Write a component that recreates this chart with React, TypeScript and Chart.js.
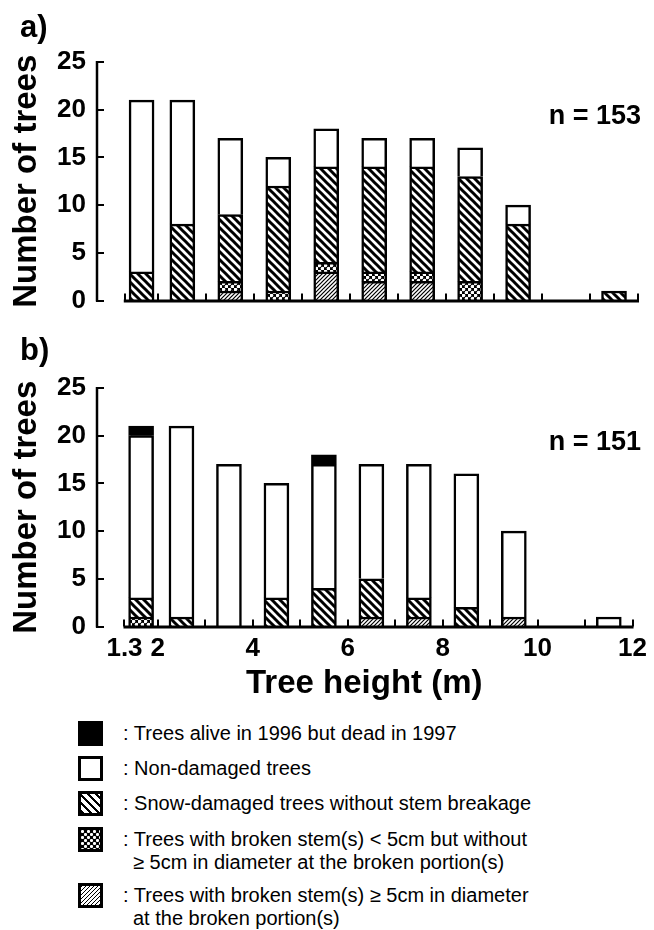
import React, { useEffect, useRef } from 'react';
import { Chart, registerables } from 'chart.js';

Chart.register(...registerables);

const FONT = '"Liberation Sans", Arial, Helvetica, sans-serif';

// Height classes (bar centres, m): 1.3-2, 2-3, ..., 9-10, 11-12
const classCenters = [1.65, 2.5, 3.5, 4.5, 5.5, 6.5, 7.5, 8.5, 9.5, 11.5];
const xTickValues = [1.3, 2, 3, 4, 5, 6, 7, 8, 9, 10, 11, 12];
const xLabelValues = [1.3, 2, 4, 6, 8, 10, 12];
const xLabelTexts = ['1.3', '2', '4', '6', '8', '10', '12'];
const yTickValues = [0, 5, 10, 15, 20, 25];

// Panel a)
const aBroken5 = [0, 0, 1, 0, 3, 2, 2, 0, 0, 0];
const aBrokenSmall = [0, 0, 1, 1, 1, 1, 1, 2, 0, 0];
const aSnow = [3, 8, 7, 11, 10, 11, 11, 11, 8, 1];
const aNonDamaged = [18, 13, 8, 3, 4, 3, 3, 3, 2, 0];
const aDead = [0, 0, 0, 0, 0, 0, 0, 0, 0, 0];

// Panel b)
const bBroken5 = [0, 0, 0, 0, 0, 1, 1, 0, 1, 0];
const bBrokenSmall = [1, 0, 0, 0, 0, 0, 0, 0, 0, 0];
const bSnow = [2, 1, 0, 3, 4, 4, 2, 2, 0, 0];
const bNonDamaged = [17, 20, 17, 12, 13, 12, 14, 14, 9, 1];
const bDead = [1, 0, 0, 0, 1, 0, 0, 0, 0, 0];

const legendItems = [
  { kind: 'dead', lines: [': Trees alive in 1996 but dead in 1997'] },
  { kind: 'non', lines: [': Non-damaged trees'] },
  { kind: 'snow', lines: [': Snow-damaged trees without stem breakage'] },
  { kind: 'small', lines: [': Trees with broken stem(s) < 5cm but without', '\u2265 5cm in diameter at the broken portion(s)'] },
  { kind: 'broken5', lines: [': Trees with broken stem(s) \u2265 5cm in diameter', 'at the broken portion(s)'] },
];
const legendCenters = [733, 768, 803, 839, 895];

function makePattern(kind: string): CanvasPattern | string {
  const c = document.createElement('canvas');
  if (kind === 'snow') {
    c.width = 8; c.height = 8;
    const ctx = c.getContext('2d')!;
    ctx.fillStyle = '#fff'; ctx.fillRect(0, 0, 8, 8);
    ctx.strokeStyle = '#000'; ctx.lineWidth = 3;
    for (const k of [-8, 0, 8]) {
      ctx.beginPath(); ctx.moveTo(k - 2, -2); ctx.lineTo(k + 10, 10); ctx.stroke();
    }
    return ctx.createPattern(c, 'repeat')!;
  }
  if (kind === 'broken5') {
    c.width = 4; c.height = 4;
    const ctx = c.getContext('2d')!;
    ctx.fillStyle = '#fff'; ctx.fillRect(0, 0, 4, 4);
    ctx.strokeStyle = '#000'; ctx.lineWidth = 1.2;
    for (const k of [0, 4, 8]) {
      ctx.beginPath(); ctx.moveTo(k + 1, -1); ctx.lineTo(k - 5, 5); ctx.stroke();
    }
    return ctx.createPattern(c, 'repeat')!;
  }
  if (kind === 'small') {
    c.width = 6; c.height = 6;
    const ctx = c.getContext('2d')!;
    ctx.fillStyle = '#000'; ctx.fillRect(0, 0, 6, 6);
    ctx.fillStyle = '#fff';
    ctx.beginPath(); ctx.arc(1.5, 1.5, 1.8, 0, Math.PI * 2); ctx.fill();
    ctx.beginPath(); ctx.arc(4.5, 4.5, 1.8, 0, Math.PI * 2); ctx.fill();
    return ctx.createPattern(c, 'repeat')!;
  }
  if (kind === 'dead') return '#000';
  return '#fff';
}

const axisPlugin = {
  id: 'panelMarks',
  afterDatasetsDraw(chart: any) {
    const { ctx, chartArea, scales } = chart;
    const x = scales.x, y = scales.y;
    const y0 = y.getPixelForValue(0);
    ctx.save();
    ctx.strokeStyle = '#000';
    // y axis line
    ctx.lineWidth = 2.5;
    ctx.beginPath();
    ctx.moveTo(chartArea.left + 1, y.getPixelForValue(25) - 1);
    ctx.lineTo(chartArea.left + 1, y0 + 1);
    ctx.stroke();
    // y ticks (inward)
    ctx.lineWidth = 2;
    for (const v of yTickValues) {
      const py = Math.round(y.getPixelForValue(v));
      ctx.beginPath(); ctx.moveTo(chartArea.left, py); ctx.lineTo(chartArea.left + 8, py); ctx.stroke();
    }
    // x axis line
    ctx.lineWidth = 3;
    ctx.beginPath();
    ctx.moveTo(x.getPixelForValue(1.3) - 1, y0 + 0.5);
    ctx.lineTo(x.getPixelForValue(12) + 1, y0 + 0.5);
    ctx.stroke();
    // x ticks (inward)
    ctx.lineWidth = 2;
    for (const v of xTickValues) {
      const px = Math.round(x.getPixelForValue(v));
      ctx.beginPath(); ctx.moveTo(px, y0); ctx.lineTo(px, y0 - 7); ctx.stroke();
    }
    ctx.restore();
  },
  afterDraw(chart: any, _args: any, opts: any) {
    const { ctx, chartArea } = chart;
    ctx.save();
    ctx.fillStyle = '#000';
    ctx.font = `bold 31px ${FONT}`;
    ctx.textAlign = 'left';
    ctx.textBaseline = 'alphabetic';
    ctx.fillText(opts.label, 20, opts.labelY);
    ctx.font = `bold 27px ${FONT}`;
    ctx.textAlign = 'right';
    ctx.fillText(opts.n, 641, chartArea.bottom - 177);
    ctx.restore();
  },
};

function buildConfig(panel: {
  broken5: number[]; small: number[]; snow: number[]; non: number[]; dead: number[];
  label: string; n: string; showX: boolean; top: number; height: number; labelY: number;
}) {
  const mk = (label: string, values: number[], kind: string) => ({
    label,
    data: classCenters.map((cx, i) => ({ x: cx, y: values[i] ? values[i] : null })),
    backgroundColor: makePattern(kind),
    borderColor: '#000',
    borderWidth: 2.5,
    borderSkipped: 'start',
    barThickness: 25,
  });
  const xAxisHeight = panel.height - (panel.top + 238.5);
  return {
    type: 'bar',
    data: {
      datasets: [
        mk('broken5', panel.broken5, 'broken5'),
        mk('small', panel.small, 'small'),
        mk('snow', panel.snow, 'snow'),
        mk('non', panel.non, 'non'),
        mk('dead', panel.dead, 'dead'),
      ],
    },
    plugins: [axisPlugin],
    options: {
      responsive: false,
      animation: false,
      events: [],
      layout: { padding: { top: panel.top, right: 16, bottom: 0, left: 0 } },
      plugins: {
        legend: { display: false },
        tooltip: { enabled: false },
        panelMarks: { label: panel.label, n: panel.n, labelY: panel.labelY },
      },
      scales: {
        x: {
          type: 'linear',
          stacked: true,
          min: 0.7,
          max: 12,
          offset: false,
          grid: { display: false, drawTicks: false },
          border: { display: false },
          afterBuildTicks: (scale: any) => {
            scale.ticks = xLabelValues.map((v) => ({ value: v }));
          },
          afterFit: (scale: any) => { scale.height = xAxisHeight; },
          ticks: {
            display: panel.showX,
            autoSkip: false,
            maxRotation: 0,
            padding: 7,
            color: '#000',
            font: { family: FONT, size: 26, weight: 'bold' },
            callback: (v: number) => {
              const i = xLabelValues.indexOf(v);
              return i >= 0 ? xLabelTexts[i] : '';
            },
          },
          title: {
            display: panel.showX,
            text: 'Tree height (m)',
            color: '#000',
            font: { family: FONT, size: 33, weight: 'bold' },
            padding: { top: 0, bottom: 6 },
          },
        },
        y: {
          stacked: true,
          min: 0,
          max: 25,
          grid: { display: false, drawTicks: false },
          border: { display: false },
          afterFit: (scale: any) => { scale.width = 96; },
          ticks: {
            stepSize: 5,
            padding: 10,
            color: '#000',
            font: { family: FONT, size: 26, weight: 'bold' },
          },
          title: {
            display: true,
            text: 'Number of trees',
            color: '#000',
            font: { family: FONT, size: 33, weight: 'bold' },
            padding: { top: 7, bottom: 0 },
          },
        },
      },
    },
  };
}

function Panel(props: any) {
  const ref = useRef<HTMLCanvasElement>(null);
  useEffect(() => {
    const chart = new Chart(ref.current!, buildConfig(props.cfg) as any);
    return () => chart.destroy();
  }, []);
  return (
    <canvas
      ref={ref}
      width={654}
      height={props.cfg.height}
      style={{ position: 'absolute', left: 0, top: props.y, width: 654, height: props.cfg.height, display: 'block' }}
    />
  );
}

function swatchStyle(kind: string): React.CSSProperties {
  const base: React.CSSProperties = {
    position: 'absolute', left: 78, width: 25, height: 25,
    border: '3px solid #000', boxSizing: 'border-box', background: '#fff',
  };
  if (kind === 'dead') return { ...base, background: '#000' };
  if (kind === 'snow') return { ...base, background: 'repeating-linear-gradient(45deg, #000 0px, #000 2.8px, #fff 2.8px, #fff 5.66px)' };
  if (kind === 'broken5') return { ...base, background: 'repeating-linear-gradient(-45deg, #000 0px, #000 1.2px, #fff 1.2px, #fff 2.83px)' };
  if (kind === 'small') return {
    ...base,
    backgroundColor: '#000',
    backgroundImage:
      'radial-gradient(circle at 1.5px 1.5px, #fff 0px, #fff 1.3px, rgba(255,255,255,0) 1.7px), radial-gradient(circle at 4.5px 4.5px, #fff 0px, #fff 1.3px, rgba(255,255,255,0) 1.7px)',
    backgroundSize: '6px 6px, 6px 6px',
  };
  return base;
}

export default function App() {
  const panelA = {
    broken5: aBroken5, small: aBrokenSmall, snow: aSnow, non: aNonDamaged, dead: aDead,
    label: 'a)', n: 'n = 153', showX: false, top: 62, height: 330, labelY: 37,
  };
  const panelB = {
    broken5: bBroken5, small: bBrokenSmall, snow: bSnow, non: bNonDamaged, dead: bDead,
    label: 'b)', n: 'n = 151', showX: true, top: 68, height: 390, labelY: 40,
  };
  return (
    <div style={{ position: 'absolute', left: 0, top: 0, width: 654, height: 930, background: '#fff', overflow: 'hidden' }}>
      <Panel cfg={panelA} y={0} />
      <Panel cfg={panelB} y={320} />
      {legendItems.map((it, i) => (
        <React.Fragment key={it.kind}>
          <div style={{ ...swatchStyle(it.kind), top: legendCenters[i] - 12.5 }} />
          <div
            style={{
              position: 'absolute', left: 123, top: legendCenters[i] - 11.5,
              fontFamily: FONT, fontSize: 20, lineHeight: '23px', color: '#000', whiteSpace: 'nowrap',
            }}
          >
            {it.lines.map((ln, j) => (
              <div key={j} style={{ paddingLeft: j === 0 ? 0 : 10 }}>{ln}</div>
            ))}
          </div>
        </React.Fragment>
      ))}
    </div>
  );
}
